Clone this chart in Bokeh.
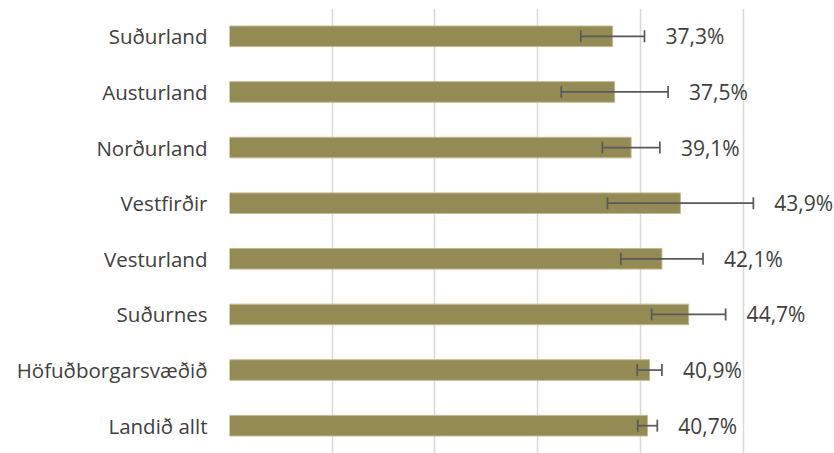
from bokeh.plotting import figure
from bokeh.models import FixedTicker, ColumnDataSource, Whisker
from bokeh.embed import file_html
from bokeh.resources import INLINE

# data (top to bottom in the chart)
regions = ["Suðurland", "Austurland", "Norðurland", "Vestfirðir",
           "Vesturland", "Suðurnes", "Höfuðborgarsvæðið", "Landið allt"]
values = [37.3, 37.5, 39.1, 43.9, 42.1, 44.7, 40.9, 40.7]
errors = [3.1, 5.2, 2.8, 7.1, 4.0, 3.6, 1.2, 0.95]
labels = ["37,3%", "37,5%", "39,1%", "43,9%", "42,1%", "44,7%", "40,9%", "40,7%"]
grid_ticks = [0, 10, 20, 30, 40, 50]

factors = list(reversed(regions))

src = ColumnDataSource(dict(
    region=regions,
    value=values,
    lower=[v - e for v, e in zip(values, errors)],
    upper=[v + e for v, e in zip(values, errors)],
    label=labels,
))

p = figure(width=834, height=453, y_range=factors, x_range=(0, 58.9),
           output_backend="svg", toolbar_location=None,
           x_axis_location=None, min_border_left=229, min_border_right=0,
           min_border_top=8, min_border_bottom=0)
p.outline_line_color = None
p.background_fill_color = "white"
p.border_fill_color = "white"

p.xgrid.ticker = FixedTicker(ticks=grid_ticks)
p.xgrid.grid_line_color = "#D9D9D9"
p.xgrid.grid_line_width = 1.5
p.ygrid.grid_line_color = None

p.hbar(y="region", right="value", left=0, height=0.37, source=src,
       fill_color="#948A54", line_color="#C2BA90", line_width=1)

w = Whisker(dimension="width", base="region", lower="lower", upper="upper",
            source=src, line_color="#595959", line_width=1.7, level="overlay")
w.upper_head.size = 12
w.lower_head.size = 12
w.upper_head.line_color = "#595959"
w.lower_head.line_color = "#595959"
w.upper_head.line_width = 1.7
w.lower_head.line_width = 1.7
p.add_layout(w)

p.text(x="upper", y="region", text="label", source=src, x_offset=21,
       text_align="left", text_baseline="middle", text_font_size="21px",
       text_font={"value": "Open Sans"}, text_color="#404040")

ax = p.yaxis[0]
ax.axis_line_color = None
ax.major_tick_line_color = None
ax.minor_tick_line_color = None
ax.major_label_standoff = 16
ax.major_label_text_font = "Open Sans"
ax.major_label_text_font_size = "20.5px"
ax.major_label_text_color = "#404040"

open("out.html", "w").write(file_html(p, INLINE))
